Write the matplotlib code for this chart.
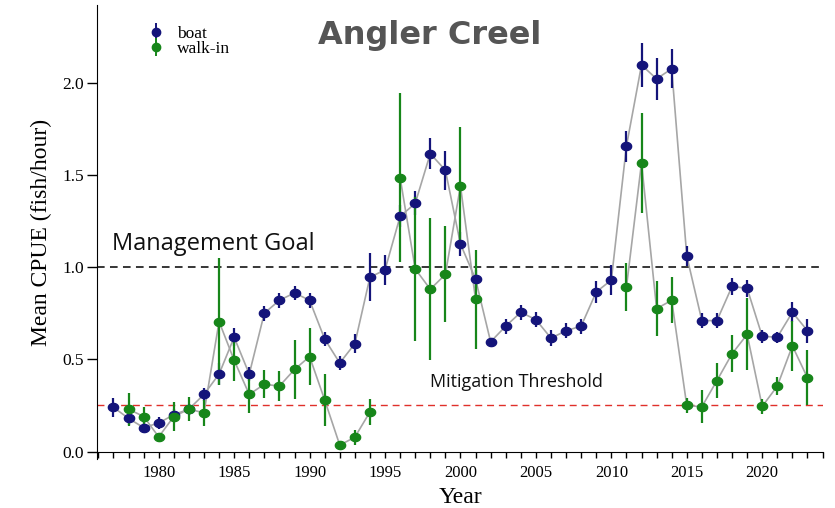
"""
Angler creel CPUE by year, boat vs walk-in anglers.
"""

import matplotlib
matplotlib.use('Agg')
import matplotlib.pyplot as plt
from matplotlib.path import Path
import numpy as np
import pandas as pd

# data
boat_years = list(range(1977, 2024))
boat_cpue = [0.24, 0.18, 0.13, 0.155, 0.20, 0.23, 0.31, 0.42, 0.62, 0.42,
             0.75, 0.82, 0.86, 0.82, 0.61, 0.48, 0.585, 0.945, 0.985, 1.275,
             1.345, 1.615, 1.525, 1.125, 0.935, 0.595, 0.68, 0.755, 0.715, 0.615,
             0.655, 0.68, 0.865, 0.93, 1.655, 2.095, 2.02, 2.075, 1.06, 0.71,
             0.71, 0.895, 0.885, 0.625, 0.62, 0.755, 0.655]
boat_err = [0.05, 0.035, 0.03, 0.035, 0.03, 0.03, 0.035, 0.06, 0.05, 0.04,
            0.04, 0.04, 0.04, 0.04, 0.04, 0.04, 0.05, 0.13, 0.08, 0.06,
            0.065, 0.085, 0.105, 0.065, 0.05, 0.02, 0.04, 0.04, 0.04, 0.045,
            0.04, 0.04, 0.06, 0.08, 0.085, 0.12, 0.115, 0.105, 0.055, 0.04,
            0.04, 0.045, 0.045, 0.035, 0.03, 0.055, 0.065]

walk_years = list(range(1978, 1995)) + list(range(1996, 2002)) + list(range(2011, 2024))
walk_cpue = [0.23, 0.19, 0.08, 0.19, 0.23, 0.21, 0.705, 0.495, 0.31, 0.365,
             0.355, 0.445, 0.515, 0.28, 0.035, 0.078, 0.215,
             1.485, 0.99, 0.88, 0.96, 1.44, 0.825,
             0.89, 1.565, 0.775, 0.82, 0.25, 0.243, 0.385, 0.53, 0.635, 0.245,
             0.355, 0.573, 0.40]
walk_err = [0.09, 0.05, 0.02, 0.08, 0.065, 0.07, 0.345, 0.11, 0.1, 0.075,
            0.08, 0.16, 0.155, 0.14, 0.02, 0.04, 0.07,
            0.46, 0.39, 0.385, 0.26, 0.32, 0.27,
            0.13, 0.27, 0.15, 0.125, 0.04, 0.09, 0.095, 0.1, 0.195, 0.04,
            0.05, 0.137, 0.15]

goal = 1.0
threshold = 0.25

c_boat = '#14147a'
c_walk = '#17861a'
c_line = '#a6a6a6'
serif = 'Liberation Serif'

# slightly flattened dot, like the original
t = np.linspace(0, 2*np.pi, 40)
ellipse = Path(np.column_stack([1.25*np.cos(t), np.sin(t)]), closed=True)

plt.close('all')
fig = plt.figure(figsize=(8.35, 5.08), dpi=100)
ax = fig.add_axes([0.116, 0.0965, 0.870, 0.8935])

all_years = np.arange(1977, 2024)
for yrs, vals, err, color, lab in [(boat_years, boat_cpue, boat_err, c_boat, 'boat'),
                                   (walk_years, walk_cpue, walk_err, c_walk, 'walk-in')]:
    # gray connecting line, broken where a year is missing
    s = pd.Series(vals, index=yrs).reindex(all_years)
    ax.plot(all_years, s.values, '-', color=c_line, lw=1.2, zorder=2)
    ax.errorbar(yrs, vals, yerr=err, fmt='none', ecolor=color,
                elinewidth=1.6, capsize=0, zorder=3)
    ax.plot(yrs, vals, ls='none', marker=ellipse, ms=7.4, color=color, zorder=4)
    # legend proxy
    ax.errorbar([], [], yerr=[], fmt='o', color=color, ms=6, elinewidth=1.4,
                capsize=0, label=lab)

ax.axhline(goal, color='k', ls=(0, (5, 3.5)), lw=1.1, zorder=1)
ax.axhline(threshold, color='#e0302a', ls=(0, (5, 3.5)), lw=1.0, zorder=1)

ax.text(1976.9, 1.06, 'Management Goal', fontsize=17, family='Open Sans',
        color='#111111', va='bottom')
ax.text(2003.7, 0.33, 'Mitigation Threshold', fontsize=13, family='Open Sans',
        color='#111111', va='bottom', ha='center')
ax.text(0.458, 0.932, 'Angler Creel', transform=ax.transAxes, fontsize=23,
        fontweight='bold', family='DejaVu Sans', color='#555555',
        ha='center', va='center')

ax.set_xlim(1975.9, 2024.05)
ax.set_ylim(-0.04, 2.42)
ax.spines['top'].set_visible(False)
ax.spines['right'].set_visible(False)
ax.spines['bottom'].set_position(('data', 0))

ax.set_xticks(np.arange(1976, 2025))
ax.set_xticklabels([str(y) if y % 5 == 0 else '' for y in range(1976, 2025)])
ax.set_yticks([0, 0.5, 1.0, 1.5, 2.0])
ax.set_yticklabels(['0.0', '0.5', '1.0', '1.5', '2.0'])
ax.tick_params(axis='x', length=4, width=1, labelsize=12, pad=6)
ax.tick_params(axis='y', length=7, width=1, labelsize=12.5, pad=2)
for lbl in ax.get_xticklabels() + ax.get_yticklabels():
    lbl.set_family(serif)

ax.set_xlabel('Year', family=serif, fontsize=17, labelpad=4)
ax.set_ylabel('Mean CPUE (fish/hour)', family=serif, fontsize=17, labelpad=8)

leg = ax.legend(loc='upper left', bbox_to_anchor=(0.06, 0.97), frameon=False,
                handlelength=1.0, handletextpad=0.7, labelspacing=-0.05,
                borderaxespad=0, prop={'family': serif, 'size': 12.5})

plt.savefig('out.png', dpi=100)
